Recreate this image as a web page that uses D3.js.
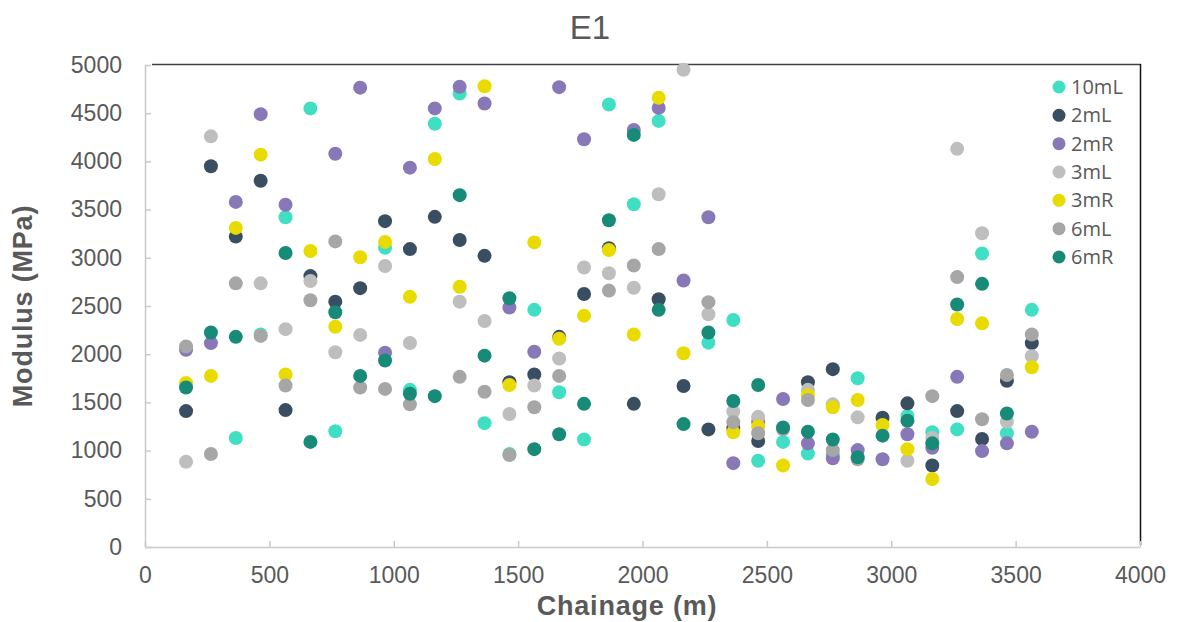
<!DOCTYPE html>
<html>
<head>
<meta charset="utf-8">
<script src="https://cdn.jsdelivr.net/npm/d3@7"></script>
<style>
  html, body { margin: 0; padding: 0; background: #fff; }
  svg { display: block; }
</style>
</head>
<body>
<svg id="chart" width="1181" height="622"></svg>
<script>
// ---- data ----
const chainage = [165, 265, 365, 465, 565, 665, 765, 865, 965, 1065, 1165, 1265, 1365, 1465, 1565, 1665, 1765, 1865, 1965, 2065, 2165, 2265, 2365, 2465, 2565, 2665, 2765, 2865, 2965, 3065, 3165, 3265, 3365, 3465, 3565];
const seriesNames = ["10mL", "2mL", "2mR", "3mL", "3mR", "6mL", "6mR"];
const seriesColors = ["#40DFC4", "#3A4E62", "#8878B8", "#BEBEBE", "#E9DA00", "#A6A6A6", "#178A78"];
const v10mL = [null, null, 1130, 2205, 3420, 4550, 1200, null, 3105, 1630, 4390, 4705, 1285, 965, 2460, 1605, 1115, 4590, 3555, 4420, null, 2120, 2355, 895, 1090, 970, 960, 1750, null, 1360, 1190, 1220, 3045, 1180, 2460];
const v2mL = [1410, 3950, 3220, 3800, 1420, 2810, 2545, 2685, 3380, 3090, 3425, 3185, 3020, 1710, 1790, 2180, 2625, 3100, 1485, 2570, 1670, 1220, 1235, 1100, null, 1710, 1845, null, 1340, 1490, 845, 1410, 1120, 1725, 2115];
const v2mR = [2045, 2115, 3580, 4490, 3550, null, 4080, 4765, 2015, 3935, 4550, 4775, 4600, 2485, 2025, 4770, 4230, null, 4325, 4555, 2765, 3420, 870, 1300, 1535, 1075, 920, 1005, 910, 1170, 1030, 1765, 995, 1075, 1195];
const v3mL = [885, 4260, null, 2735, 2260, 2760, 2020, 2200, 2915, 2115, null, 2545, 2345, 1380, 1675, 1955, 2900, 2840, 2690, 3660, 4950, 2415, 1405, 1350, null, 1630, 1480, 1345, null, 895, 1130, 4130, 3255, 1300, 1980];
const v3mR = [1700, 1775, 3310, 4070, 1790, 3070, 2285, 3005, 3165, 2595, 4025, 2700, 4780, 1680, 3160, 2160, 2400, 3080, 2205, 4660, 2010, null, 1190, 1250, 845, 1575, 1450, 1525, 1265, 1015, 705, 2365, 2320, null, 1865];
const v6mL = [2080, 965, 2735, 2190, 1675, 2560, 3170, 1655, 1640, 1480, null, 1765, 1610, 955, 1450, 1775, null, 2660, 2920, 3090, null, 2540, 1295, 1180, 1220, 1525, 1005, 910, null, null, 1565, 2800, 1325, 1785, 2205];
const v6mR = [1655, 2225, 2180, null, 3050, 1090, 2435, 1775, 1935, 1590, 1565, 3650, 1985, 2580, 1015, 1170, 1485, 3390, 4275, 2460, 1275, 2225, 1515, 1680, 1240, 1195, 1115, 930, 1155, 1310, 1075, 2515, 2730, 1385, null];
const xTicks = [0, 500, 1000, 1500, 2000, 2500, 3000, 3500, 4000];
const yTicks = [0, 500, 1000, 1500, 2000, 2500, 3000, 3500, 4000, 4500, 5000];
const chartTitle = "E1";
const xTitle = "Chainage (m)";
const yTitle = "Modulus (MPa)";

const seriesValues = [v10mL, v2mL, v2mR, v3mL, v3mR, v6mL, v6mR];
const series = seriesNames.map((name, i) => ({
  name, color: seriesColors[i],
  points: chainage.map((c, j) => ({ x: c, y: seriesValues[i][j] })).filter(p => p.y != null)
}));

// ---- layout ----
const svg = d3.select("#chart");
const pL = 145, pR = 1140, pT = 65, pB = 547;
const x = d3.scaleLinear().domain([0, 4000]).range([pL, pR]);
const y = d3.scaleLinear().domain([0, 5000]).range([pB, pT]);
const textColor = "#595959";
const axisColor = "#C9C9C9";

// plot frame (top & right)
svg.append("line").attr("x1", pL + 7).attr("x2", pR + 1).attr("y1", pT - 0.5).attr("y2", pT - 0.5)
  .attr("stroke", "#404040").attr("stroke-width", 1.5);
svg.append("line").attr("x1", pR + 0.5).attr("x2", pR + 0.5).attr("y1", pT - 1).attr("y2", pB - 2)
  .attr("stroke", "#111").attr("stroke-width", 1.5);

// axes
const gx = svg.append("g").attr("transform", `translate(0,${pB})`)
  .call(d3.axisBottom(x).tickValues(xTicks).tickSize(-6).tickSizeOuter(0).tickPadding(20).tickFormat(d3.format("d")));
const gy = svg.append("g").attr("transform", `translate(${pL},0)`)
  .call(d3.axisLeft(y).tickValues(yTicks).tickSize(-6).tickSizeOuter(0).tickPadding(23).tickFormat(d3.format("d")));
[gx, gy].forEach(g => {
  g.select(".domain").attr("stroke", axisColor).attr("stroke-width", 1.5);
  g.selectAll(".tick line").attr("stroke", axisColor).attr("stroke-width", 1.5);
  g.selectAll(".tick text").attr("fill", textColor)
    .style("font-family", "'Liberation Sans', Arial, sans-serif").style("font-size", "23px");
});

// points
series.forEach(s => {
  svg.append("g").selectAll("circle").data(s.points).join("circle")
    .attr("cx", d => x(d.x)).attr("cy", d => y(d.y)).attr("r", 7)
    .attr("fill", s.color);
});

// titles
svg.append("text").attr("x", 590).attr("y", 39).attr("text-anchor", "middle")
  .attr("fill", textColor).style("font-family", "'Liberation Sans', Arial, sans-serif")
  .style("font-size", "33px").text(chartTitle);
svg.append("text").attr("x", 627).attr("y", 615).attr("text-anchor", "middle")
  .attr("fill", textColor).style("font-family", "'Liberation Sans', Arial, sans-serif")
  .style("font-size", "27px").style("font-weight", "bold").style("letter-spacing", "0.8px").text(xTitle);
svg.append("text").attr("transform", "translate(32,306) rotate(-90)").attr("text-anchor", "middle")
  .attr("fill", textColor).style("font-family", "'Liberation Sans', Arial, sans-serif")
  .style("font-size", "27px").style("font-weight", "bold").style("letter-spacing", "0.8px").text(yTitle);

// legend
const legend = svg.append("g");
const ly = d3.scaleLinear().domain([0, seriesNames.length - 1]).range([87, 257]);
series.forEach((s, i) => {
  legend.append("circle").attr("cx", 1059).attr("cy", ly(i)).attr("r", 6.5).attr("fill", s.color);
  legend.append("text").attr("x", 1071).attr("y", ly(i)).attr("dy", "0.35em")
    .attr("fill", textColor).style("font-family", "'Open Sans', 'Noto Sans', sans-serif")
    .style("font-size", "20px").text(s.name);
});
</script>
</body>
</html>
